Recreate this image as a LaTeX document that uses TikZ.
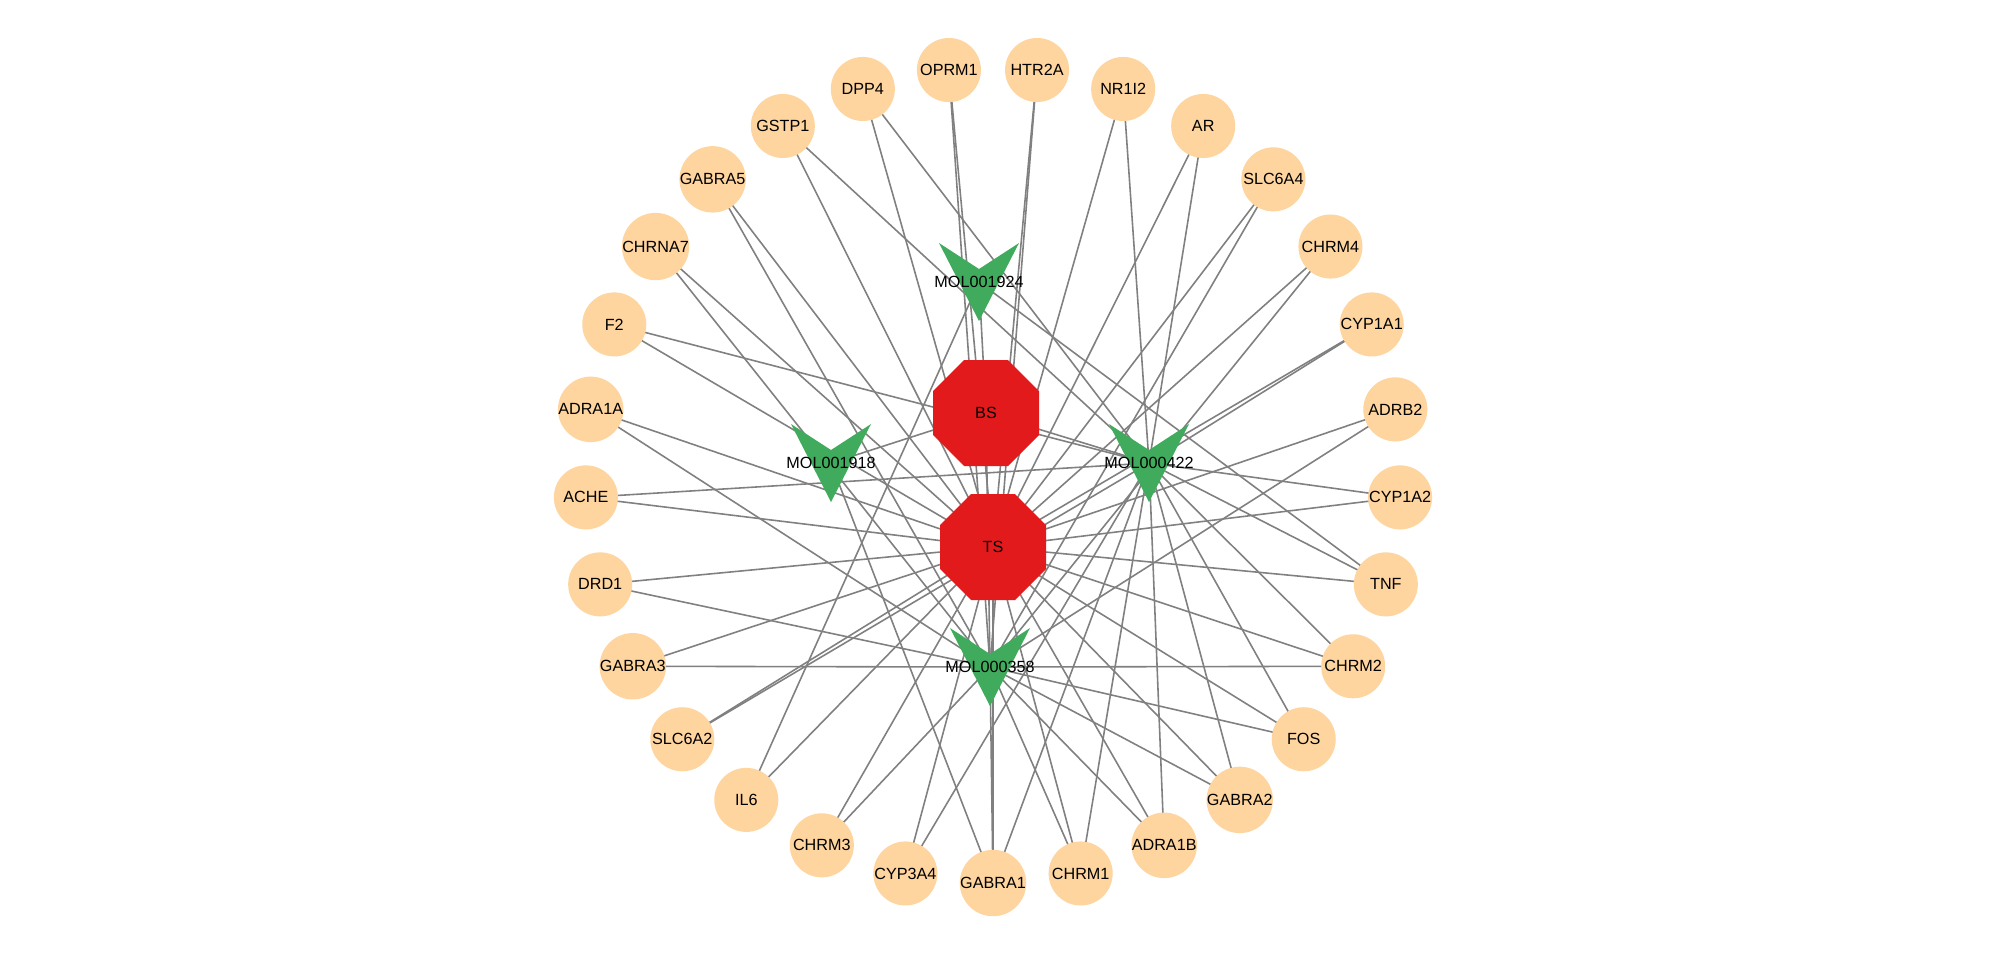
\documentclass[tikz,border=0pt]{standalone}
\usepackage{fontspec}
\setmainfont{Liberation Sans}
\usetikzlibrary{shapes.geometric,calc}
\definecolor{peach}{RGB}{254,212,159}
\definecolor{hubred}{RGB}{227,26,28}
\definecolor{cmpgreen}{RGB}{65,171,93}
\definecolor{edgegray}{RGB}{128,128,128}
\pgfdeclarelayer{bg}
\pgfdeclarelayer{mid}
\pgfsetlayers{bg,mid,main}
\newcommand\tfont{\fontsize{4.6}{5}\selectfont}
\tikzset{
  tgt/.style={circle, fill=peach, minimum size=0.64cm, inner sep=0pt, font=\tfont},
  hub/.style={regular polygon, regular polygon sides=8, fill=hubred, minimum size=1.147cm, inner sep=0pt, font=\tfont},
  cmp/.style={inner sep=0pt, font=\tfont},
  edge/.style={draw=edgegray, line width=0.45pt}
}
\begin{document}
\begin{tikzpicture}[x=0.01cm, y=-0.01cm]
\useasboundingbox (0,0) rectangle (2000,953);
% central nodes
\node[hub] (BS) at (986,413) {BS};
\node[hub] (TS) at (993,547) {TS};
\node[cmp] (M24) at (979,282) {MOL001924};
\node[cmp] (M18) at (831,463) {MOL001918};
\node[cmp] (M22) at (1149,463) {MOL000422};
\node[cmp] (M58) at (990,667) {MOL000358};
% target ring
\foreach \n/\k in {GABRA1/0, CYP3A4/1, CHRM3/2, IL6/3, SLC6A2/4, GABRA3/5, DRD1/6, ACHE/7,
  ADRA1A/8, F2/9, CHRNA7/10, GABRA5/11, GSTP1/12, DPP4/13, OPRM1/14,
  HTR2A/-14, NR1I2/-13, AR/-12, SLC6A4/-11, CHRM4/-10, CYP1A1/-9, ADRB2/-8, CYP1A2/-7,
  TNF/-6, CHRM2/-5, FOS/-4, GABRA2/-3, ADRA1B/-2, CHRM1/-1}
  \node[tgt] (\n) at ({993-407.7*sin(\k*360/29)},{475.3+407.7*cos(\k*360/29)}) {\n};
% V shapes of compounds
\begin{pgfonlayer}{mid}
\foreach \m in {M24,M18,M22,M58}
  \fill[cmpgreen] ($(\m.center)+(-40,-39)$) -- ($(\m.center)+(0,-13)$) -- ($(\m.center)+(40,-39)$) -- ($(\m.center)+(0,39)$) -- cycle;
\end{pgfonlayer}
% edges
\begin{pgfonlayer}{bg}
\fill[white] (0,0) rectangle (2000,953);
\foreach \m in {M24,M18,M22,M58} \draw[edge] (BS.center) -- (\m.center);
\foreach \t in {GABRA1, CYP3A4, CHRM3, IL6, SLC6A2, GABRA3, DRD1, ACHE, ADRA1A, F2, CHRNA7, GABRA5, GSTP1, DPP4, OPRM1,
  HTR2A, NR1I2, AR, SLC6A4, CHRM4, CYP1A1, ADRB2, CYP1A2, TNF, CHRM2, FOS, GABRA2, ADRA1B, CHRM1}
  \draw[edge] (TS.center) -- (\t.center);
\foreach \t in {OPRM1, HTR2A, GABRA5, CHRNA7, ADRA1A, DRD1, GABRA3, CHRM3, GABRA1, CHRM1, ADRA1B, GABRA2, FOS, CHRM2, ADRB2, CHRM4, SLC6A4}
  \draw[edge] (M58.center) -- (\t.center);
\foreach \t in {GSTP1, DPP4, NR1I2, AR, CYP1A1, CYP1A2, ACHE, F2, TNF, FOS, GABRA2, ADRA1B, CHRM1, GABRA1, CYP3A4, SLC6A2, CHRM2}
  \draw[edge] (M22.center) -- (\t.center);
\foreach \t in {IL6, TNF}
  \draw[edge] (M24.center) -- (\t.center);
\foreach \t in {GABRA1}
  \draw[edge] (M18.center) -- (\t.center);
\end{pgfonlayer}
\end{tikzpicture}
\end{document}
